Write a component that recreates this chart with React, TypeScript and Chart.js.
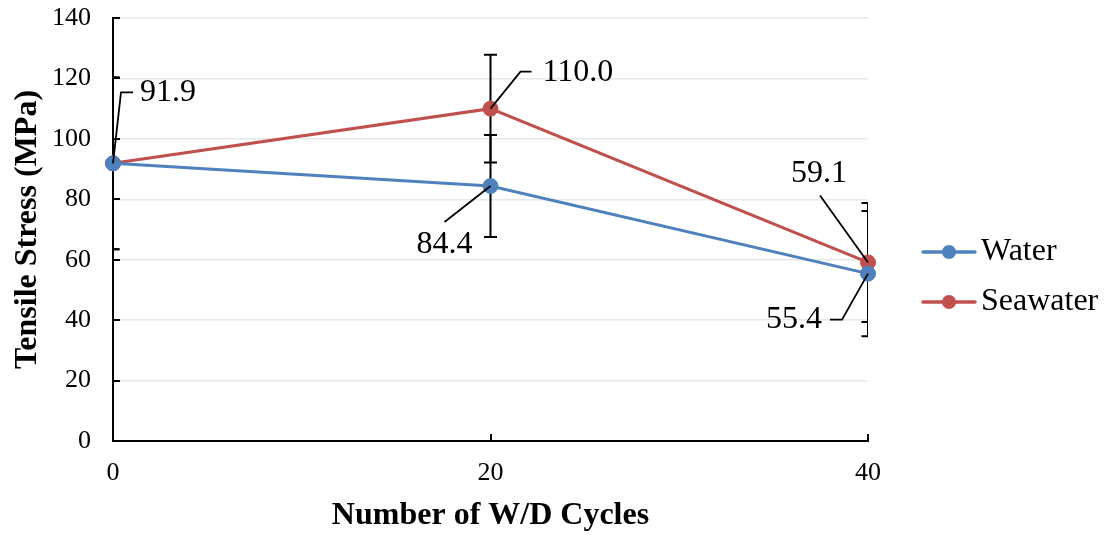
import { useEffect, useRef } from "react";
import { Chart, registerables } from "chart.js";

Chart.register(...registerables);

// Tensile stress after wetting/drying cycles
const cycleLabels = ["0", "20", "40"];
const waterStress = [91.9, 84.4, 55.4];
const seawaterStress = [91.9, 110.0, 59.1];
const waterError = [28.4, 16.9, 20.7];
const seawaterError = [28.4, 17.8, 19.7];
const seriesNames = ["Water", "Seawater"];

const seriesColors = ["#4f81bd", "#c0504d"];
const serif = "'Liberation Serif', 'Times New Roman', serif";

// Where each value label and its leader line sit, relative to its point (px)
const labelLayout = [
  { dataset: 1, index: 0, leader: [[0, 0], [8, -71], [20, -71]], text: [27, -71], align: "left" },
  { dataset: 1, index: 1, leader: [[0, 0], [30, -37], [41, -37]], text: [52, -36], align: "left" },
  { dataset: 0, index: 1, leader: [[0, 0], [-46, 36]], text: [-46, 59], align: "center" },
  { dataset: 1, index: 2, leader: [[0, 0], [-48, -67]], text: [-49, -89], align: "center" },
  { dataset: 0, index: 2, leader: [[0, 0], [-26, 46], [-38, 46]], text: [-46, 46], align: "right" },
];

const errorSets = [waterError, seawaterError];

const errorBarPlugin = {
  id: "errorBars",
  beforeDatasetsDraw(chart: any) {
    const { ctx, chartArea, scales } = chart;
    ctx.save();
    ctx.beginPath();
    ctx.rect(chartArea.left, chartArea.top, chartArea.right - chartArea.left, chartArea.bottom - chartArea.top);
    ctx.clip();
    ctx.strokeStyle = "#000";
    ctx.lineWidth = 2;
    chart.data.datasets.forEach((ds: any, di: number) => {
      const meta = chart.getDatasetMeta(di);
      meta.data.forEach((pt: any, i: number) => {
        const v = ds.data[i];
        const e = errorSets[di][i];
        const yHi = scales.y.getPixelForValue(v + e);
        const yLo = scales.y.getPixelForValue(v - e);
        const x = pt.x;
        ctx.beginPath();
        ctx.moveTo(x, yHi);
        ctx.lineTo(x, yLo);
        ctx.moveTo(x - 6.5, yHi);
        ctx.lineTo(x + 6.5, yHi);
        ctx.moveTo(x - 6.5, yLo);
        ctx.lineTo(x + 6.5, yLo);
        ctx.stroke();
      });
    });
    ctx.restore();

    // inward tick marks on both axes
    ctx.save();
    ctx.strokeStyle = "#000";
    ctx.lineWidth = 2;
    ctx.beginPath();
    scales.y.ticks.forEach((t: any) => {
      const y = Math.round(scales.y.getPixelForValue(t.value));
      ctx.moveTo(chartArea.left, y);
      ctx.lineTo(chartArea.left + 7, y);
    });
    scales.x.ticks.forEach((_t: any, i: number) => {
      const x = Math.round(scales.x.getPixelForTick(i));
      ctx.moveTo(x, chartArea.bottom);
      ctx.lineTo(x, chartArea.bottom - 7);
    });
    ctx.stroke();
    ctx.restore();
  },
};

const valueLabelPlugin = {
  id: "valueLabels",
  afterDatasetsDraw(chart: any) {
    const { ctx } = chart;
    ctx.save();
    ctx.strokeStyle = "#000";
    ctx.lineWidth = 1.8;
    ctx.fillStyle = "#000";
    ctx.font = `32px ${serif}`;
    ctx.textBaseline = "middle";
    labelLayout.forEach((lab) => {
      const pt = chart.getDatasetMeta(lab.dataset).data[lab.index];
      const value = chart.data.datasets[lab.dataset].data[lab.index];
      ctx.beginPath();
      lab.leader.forEach(([dx, dy], k) => {
        if (k === 0) ctx.moveTo(pt.x + dx, pt.y + dy);
        else ctx.lineTo(pt.x + dx, pt.y + dy);
      });
      ctx.stroke();
      ctx.textAlign = lab.align;
      ctx.fillText(Number(value).toFixed(1), pt.x + lab.text[0], pt.y + lab.text[1]);
    });
    ctx.restore();
  },
};

const legendPlugin = {
  id: "sideLegend",
  afterDraw(chart: any) {
    const { ctx } = chart;
    ctx.save();
    ctx.font = `32px ${serif}`;
    ctx.textBaseline = "middle";
    ctx.textAlign = "left";
    seriesNames.forEach((name, i) => {
      const y = 252 + i * 50;
      ctx.strokeStyle = seriesColors[i];
      ctx.lineWidth = 3.5;
      ctx.lineCap = "round";
      ctx.beginPath();
      ctx.moveTo(923, y);
      ctx.lineTo(975, y);
      ctx.stroke();
      ctx.fillStyle = seriesColors[i];
      ctx.beginPath();
      ctx.arc(949, y, 7, 0, Math.PI * 2);
      ctx.fill();
      ctx.fillStyle = "#000";
      ctx.fillText(name, 981, y);
    });
    ctx.restore();
  },
};

export default function App() {
  const canvasRef = useRef<HTMLCanvasElement | null>(null);

  useEffect(() => {
    if (!canvasRef.current) return;
    const chart = new Chart(canvasRef.current, {
      type: "line",
      data: {
        labels: cycleLabels,
        datasets: [
          {
            label: seriesNames[0],
            data: waterStress,
            borderColor: seriesColors[0],
            backgroundColor: seriesColors[0],
            borderWidth: 3,
            pointRadius: 7.5,
            pointBorderWidth: 1,
            pointHoverRadius: 7.5,
          },
          {
            label: seriesNames[1],
            data: seawaterStress,
            borderColor: seriesColors[1],
            backgroundColor: seriesColors[1],
            borderWidth: 3,
            pointRadius: 7.5,
            pointBorderWidth: 1,
            pointHoverRadius: 7.5,
          },
        ],
      },
      options: {
        animation: false,
        responsive: true,
        maintainAspectRatio: false,
        layout: { padding: { top: 18, right: 239, left: 0, bottom: 0 } },
        plugins: {
          legend: { display: false },
          tooltip: { enabled: false },
        },
        scales: {
          x: {
            type: "category",
            offset: false,
            grid: { display: false, drawTicks: false },
            border: { display: true, color: "#000", width: 2 },
            ticks: { color: "#000", font: { family: serif, size: 26 }, padding: 17 },
            title: {
              display: true,
              text: "Number of W/D Cycles",
              color: "#000",
              font: { family: serif, size: 32, weight: "bold", lineHeight: 1 },
              padding: { top: 0, bottom: 3 },
            },
            afterFit(scale: any) {
              scale.height = 94;
              scale.paddingLeft = 0;
              scale.paddingRight = 0;
            },
          },
          y: {
            min: 0,
            max: 140,
            ticks: { stepSize: 20, color: "#000", font: { family: serif, size: 26 }, padding: 22 },
            grid: { color: "#e8e8e8", lineWidth: 1.5, drawTicks: false },
            border: { display: true, color: "#000", width: 2 },
            title: {
              display: true,
              text: "Tensile Stress (MPa)",
              color: "#000",
              font: { family: serif, size: 32, weight: "bold", lineHeight: 1 },
              padding: { top: 12, bottom: 0 },
            },
            afterFit(scale: any) {
              scale.width = 113;
              scale.paddingTop = 0;
              scale.paddingBottom = 0;
            },
          },
        },
      },
      plugins: [errorBarPlugin, valueLabelPlugin, legendPlugin],
    } as any);
    return () => chart.destroy();
  }, []);

  return (
    <div style={{ position: "fixed", left: 0, top: 0, width: 1107, height: 535, background: "#fff" }}>
      <canvas ref={canvasRef} />
    </div>
  );
}
